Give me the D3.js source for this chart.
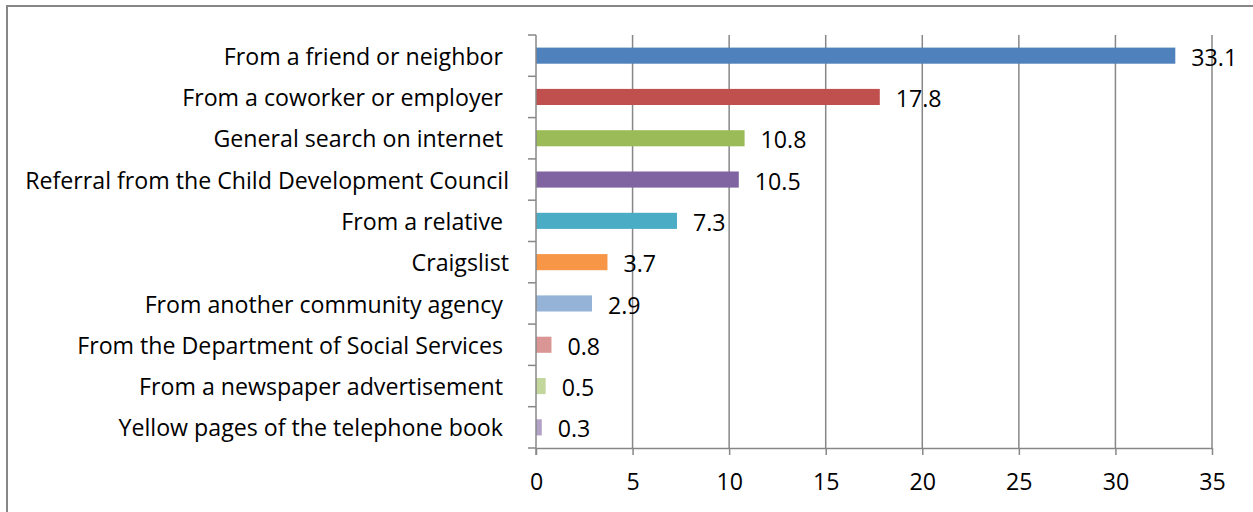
<!DOCTYPE html>
<html>
<head>
<meta charset="utf-8">
<script src="https://cdn.jsdelivr.net/npm/d3@7"></script>
<style>
  html, body { margin: 0; padding: 0; background: #fff; }
  svg { display: block; }
  text { font-family: "Open Sans", Lato, sans-serif; fill: #000; }
</style>
</head>
<body>
<svg id="chart" width="1253" height="512"></svg>
<script>
// How people heard about the program (percent of respondents)
const categories = [
  "From a friend or neighbor ",
  "From a coworker or employer ",
  "General search on internet ",
  "Referral from the Child Development Council",
  "From a relative ",
  "Craigslist",
  "From another community agency ",
  "From the Department of Social Services ",
  "From a newspaper advertisement ",
  "Yellow pages of the telephone book "
];
const values = [33.1, 17.8, 10.8, 10.5, 7.3, 3.7, 2.9, 0.8, 0.5, 0.3];
const colors = ["#4F81BD", "#C0504D", "#9BBB59", "#8064A2", "#4BACC6",
                "#F79646", "#95B3D7", "#D99694", "#C3D69B", "#B3A2C7"];
const xTicks = [0, 5, 10, 15, 20, 25, 30, 35];

const svg = d3.select("#chart");
const W = 1253, H = 512;
const plot = { left: 536, right: 1212, top: 35, bottom: 448 };
const labelRight = 509;
const labelSpan = 484; // width available for the longest category label

// size the text so the longest category label fills its space
const probe = svg.append("text").style("font-size", "20px")
  .text(d3.greatest(categories, d => d.length));
const fontPx = 20 * labelSpan / probe.node().getComputedTextLength();
probe.remove();
const fs = fontPx.toFixed(2) + "px";

// outer chart frame
svg.append("rect")
  .attr("x", 7).attr("y", 6)
  .attr("width", W + 10).attr("height", H + 10)
  .attr("fill", "none").attr("stroke", "#878787").attr("stroke-width", 2);

const x = d3.scaleLinear().domain([0, 35]).range([plot.left, plot.right]);
const y = d3.scaleBand().domain(categories).range([plot.top, plot.bottom])
  .paddingInner(0.61).paddingOuter(0.305);
const yBand = d3.scaleBand().domain(categories).range([plot.top, plot.bottom]);

// vertical gridlines
svg.append("g")
  .selectAll("line").data(xTicks.slice(1)).join("line")
  .attr("x1", d => x(d)).attr("x2", d => x(d))
  .attr("y1", plot.top).attr("y2", plot.bottom)
  .attr("stroke", "#878787").attr("stroke-width", 1.5);

// bars
svg.append("g")
  .selectAll("rect").data(values).join("rect")
  .attr("x", x(0))
  .attr("y", (d, i) => y(categories[i]))
  .attr("width", d => x(d) - x(0))
  .attr("height", y.bandwidth())
  .attr("fill", (d, i) => colors[i]);

// x axis
const xAxis = svg.append("g")
  .attr("transform", `translate(0,${plot.bottom})`)
  .call(d3.axisBottom(x).tickValues(xTicks).tickSize(7).tickPadding(19).tickSizeOuter(0));
xAxis.select(".domain").attr("stroke", "#878787").attr("stroke-width", 1.5);
xAxis.selectAll(".tick line").attr("stroke", "#878787").attr("stroke-width", 1.5);
xAxis.selectAll("text").style("font-size", fs).attr("fill", "#000");

// y axis: ticks mark category boundaries
const yAxisG = svg.append("g");
yAxisG.append("line")
  .attr("x1", plot.left).attr("x2", plot.left)
  .attr("y1", plot.top).attr("y2", plot.bottom + 7)
  .attr("stroke", "#878787").attr("stroke-width", 1.5);
const boundaries = categories.map(c => yBand(c)).concat([plot.bottom]);
yAxisG.selectAll("line.tk").data(boundaries).join("line")
  .attr("class", "tk")
  .attr("x1", plot.left - 8).attr("x2", plot.left)
  .attr("y1", d => d).attr("y2", d => d)
  .attr("stroke", "#878787").attr("stroke-width", 1.5);

// category labels
svg.append("g")
  .selectAll("text").data(categories).join("text")
  .attr("x", labelRight)
  .attr("y", d => yBand(d) + yBand.bandwidth() / 2 + 1)
  .attr("dy", "0.35em")
  .attr("text-anchor", "end")
  .style("font-size", fs)
  .style("white-space", "pre")
  .text(d => d);

// value labels
svg.append("g")
  .selectAll("text").data(values).join("text")
  .attr("x", d => x(d) + 16)
  .attr("y", (d, i) => yBand(categories[i]) + yBand.bandwidth() / 2 + 2)
  .attr("dy", "0.35em")
  .style("font-size", fs)
  .text(d => d.toFixed(1));
</script>
</body>
</html>
